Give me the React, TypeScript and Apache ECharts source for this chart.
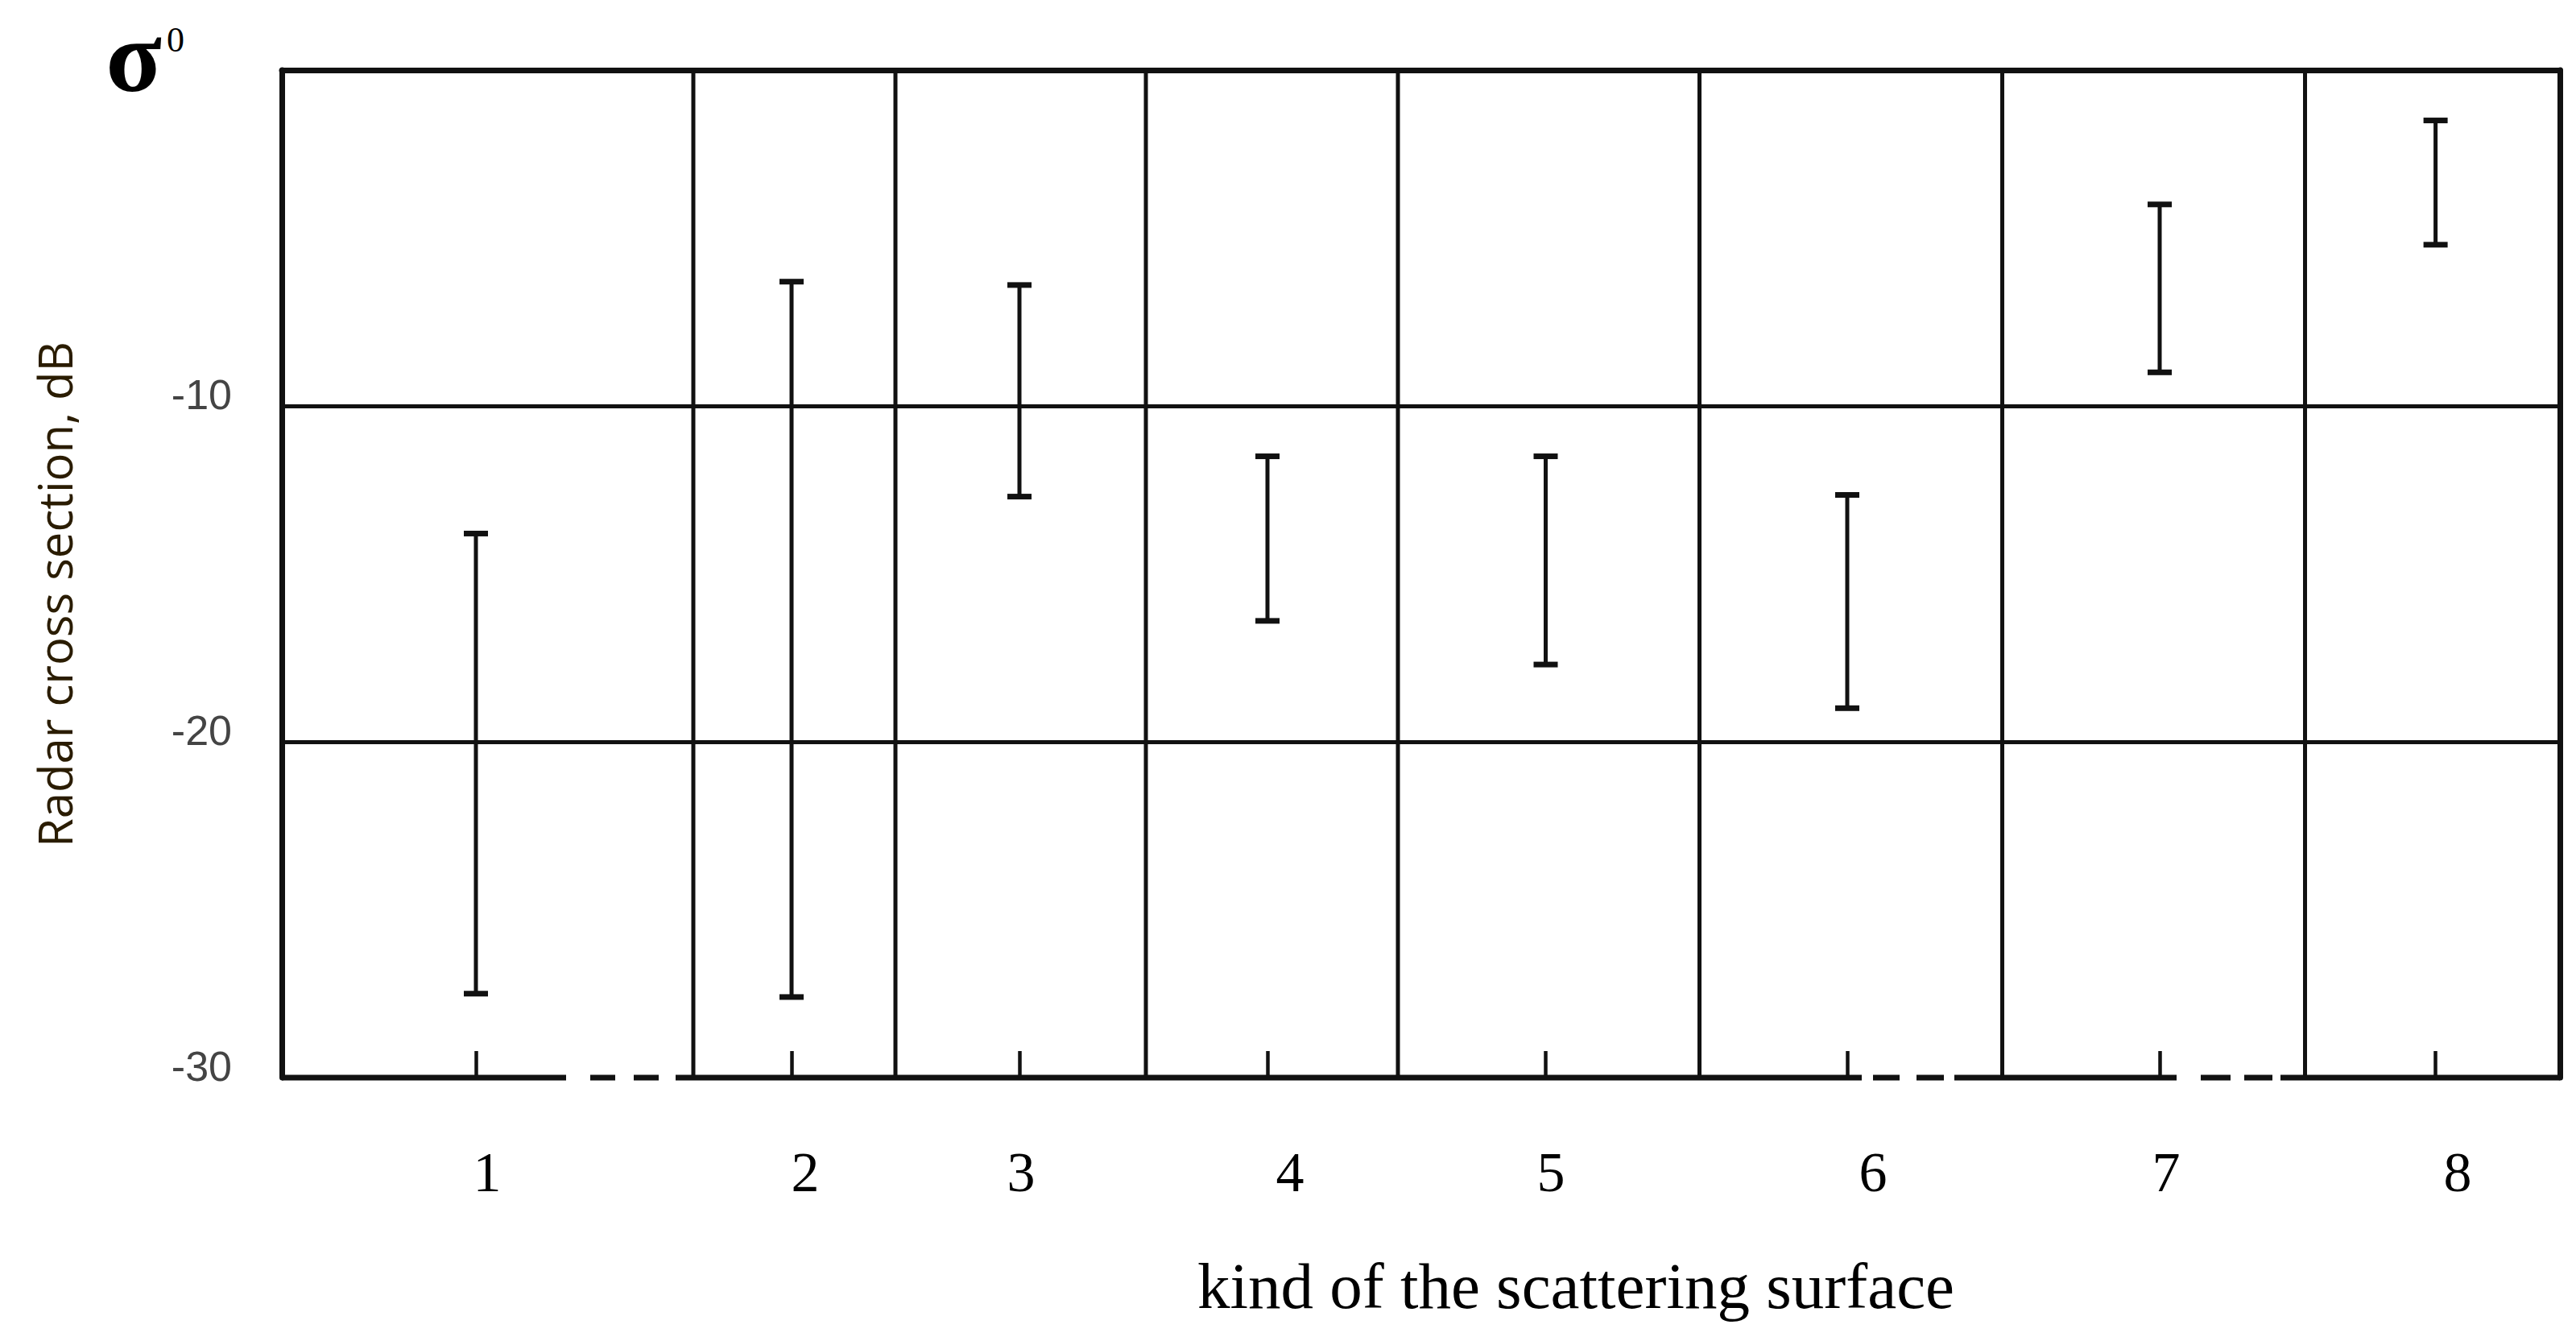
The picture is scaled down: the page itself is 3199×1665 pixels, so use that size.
import React, { useEffect, useRef } from "react";
import * as echarts from "echarts";

// ---- data ----
const categories = ["1", "2", "3", "4", "5", "6", "7", "8"];
const rcsLow = [-27.5, -27.6, -12.7, -16.4, -17.7, -19.0, -9.0, -5.2];
const rcsHigh = [-13.8, -6.3, -6.4, -11.5, -11.5, -12.65, -4.0, -1.5];
const yMin = -30;
const yMax = 0;
const yStep = 10;

// ---- layout (horizontal positions along the plot, in plot units) ----
const X_MAX = 2829;
const barPos = [241, 633, 916, 1224, 1569.5, 1944, 2332, 2674.6];
const labelPos = [255, 650, 918, 1252, 1576, 1976, 2340, 2702];
const separatorPos = [511, 762, 1073, 1386, 1760.5, 2136.5, 2512.5];
const bottomSegments = [
  [0, 353], [383, 414], [437, 468], [489, 1962],
  [1976, 2009], [2030, 2064], [2077, 2353],
  [2383, 2420], [2437, 2472], [2482, X_MAX],
];

const INK = "#111";

export default function App() {
  const ref = useRef<HTMLDivElement>(null);

  useEffect(() => {
    if (!ref.current) return;
    const chart = echarts.init(ref.current, undefined, { renderer: "svg" });

    const option: any = {
      animation: false,
      backgroundColor: "#fff",
      grid: { left: 350, top: 87, right: 20, bottom: 327, containLabel: false },
      xAxis: [
        {
          type: "value",
          min: 0,
          max: X_MAX,
          position: "bottom",
          axisLine: { show: false, onZero: false },
          splitLine: { show: false },
          axisTick: {
            show: true,
            customValues: barPos,
            inside: true,
            length: 33,
            lineStyle: { color: INK, width: 4.5 },
          },
          axisLabel: {
            show: true,
            customValues: labelPos,
            formatter: (v: number) => {
              let best = 0;
              for (let i = 1; i < labelPos.length; i++) {
                if (Math.abs(labelPos[i] - v) < Math.abs(labelPos[best] - v)) best = i;
              }
              return categories[best];
            },
            fontFamily: "Liberation Serif",
            fontSize: 70,
            color: "#000",
            margin: 82,
          },
        },
        {
          type: "value",
          min: 0,
          max: X_MAX,
          position: "top",
          axisLine: { show: true, onZero: false, lineStyle: { color: INK, width: 7 } },
          axisTick: { show: false },
          axisLabel: { show: false },
          splitLine: { show: false },
        },
      ],
      yAxis: [
        {
          type: "value",
          min: yMin,
          max: yMax,
          interval: yStep,
          position: "left",
          axisLine: { show: true, onZero: false, lineStyle: { color: INK, width: 7 } },
          axisTick: { show: false },
          axisLabel: {
            formatter: (v: number) => (v === 0 ? "" : String(v)),
            fontFamily: "Liberation Sans",
            fontSize: 52,
            color: "#444",
            margin: 62,
            verticalAlign: "bottom",
            lineHeight: 28,
          },
          splitLine: {
            show: true,
            showMinLine: false,
            showMaxLine: false,
            lineStyle: { color: INK, width: 5 },
          },
        },
        {
          type: "value",
          min: yMin,
          max: yMax,
          position: "right",
          axisLine: { show: true, onZero: false, lineStyle: { color: INK, width: 7 } },
          axisTick: { show: false },
          axisLabel: { show: false },
          splitLine: { show: false },
        },
      ],
      series: [
        {
          type: "custom",
          name: "separators",
          xAxisIndex: 0,
          yAxisIndex: 0,
          data: separatorPos.map((x) => [x, yMin]),
          renderItem: (params: any, api: any) => {
            const x = api.value(0);
            const p0 = api.coord([x, yMax]);
            const p1 = api.coord([x, yMin]);
            return {
              type: "line",
              shape: { x1: p0[0], y1: p0[1], x2: p1[0], y2: p1[1] },
              style: { stroke: INK, lineWidth: 5 },
            };
          },
        },
        {
          type: "custom",
          name: "bottom",
          xAxisIndex: 0,
          yAxisIndex: 0,
          data: bottomSegments.map((s) => [s[0], s[1]]),
          encode: { x: [0, 1] },
          renderItem: (params: any, api: any) => {
            const p0 = api.coord([api.value(0), yMin]);
            const p1 = api.coord([api.value(1), yMin]);
            return {
              type: "line",
              shape: { x1: p0[0], y1: p0[1], x2: p1[0], y2: p1[1] },
              style: { stroke: INK, lineWidth: 7, lineCap: "butt" },
            };
          },
        },
        {
          type: "custom",
          name: "RCS range",
          xAxisIndex: 0,
          yAxisIndex: 0,
          data: categories.map((c, i) => [barPos[i], rcsLow[i], rcsHigh[i]]),
          encode: { x: 0, y: [1, 2] },
          renderItem: (params: any, api: any) => {
            const x = api.value(0);
            const pLo = api.coord([x, api.value(1)]);
            const pHi = api.coord([x, api.value(2)]);
            const hw = 15;
            return {
              type: "group",
              children: [
                {
                  type: "line",
                  shape: { x1: pLo[0], y1: pLo[1], x2: pHi[0], y2: pHi[1] },
                  style: { stroke: INK, lineWidth: 5 },
                },
                {
                  type: "line",
                  shape: { x1: pHi[0] - hw, y1: pHi[1], x2: pHi[0] + hw, y2: pHi[1] },
                  style: { stroke: INK, lineWidth: 7 },
                },
                {
                  type: "line",
                  shape: { x1: pLo[0] - hw, y1: pLo[1], x2: pLo[0] + hw, y2: pLo[1] },
                  style: { stroke: INK, lineWidth: 7 },
                },
              ],
            };
          },
        },
      ],
      graphic: [
        {
          type: "text",
          x: 166,
          y: 70,
          style: {
            text: "σ",
            font: "bold 128px 'Liberation Serif'",
            fill: "#000",
            textAlign: "center",
            textVerticalAlign: "middle",
            align: "center",
            verticalAlign: "middle",
          },
        },
        {
          type: "text",
          x: 218,
          y: 49,
          style: {
            text: "0",
            font: "44px 'Liberation Serif'",
            fill: "#000",
            textAlign: "center",
            textVerticalAlign: "middle",
            align: "center",
            verticalAlign: "middle",
          },
        },
        {
          type: "text",
          x: 67,
          y: 738,
          rotation: Math.PI / 2,
          style: {
            text: "Radar cross section, dB",
            font: "58px 'Open Sans'",
            fill: "#2a1c00",
            textAlign: "center",
            textVerticalAlign: "middle",
            align: "center",
            verticalAlign: "middle",
          },
        },
        {
          type: "text",
          x: 1957,
          y: 1597,
          style: {
            text: "kind of the scattering surface",
            font: "81px 'Liberation Serif'",
            fill: "#000",
            textAlign: "center",
            textVerticalAlign: "middle",
            align: "center",
            verticalAlign: "middle",
          },
        },
      ],
    };

    chart.setOption(option);
    return () => chart.dispose();
  }, []);

  return (
    <div
      ref={ref}
      style={{ position: "fixed", left: 0, top: 0, width: 3199, height: 1665, background: "#fff" }}
    />
  );
}
